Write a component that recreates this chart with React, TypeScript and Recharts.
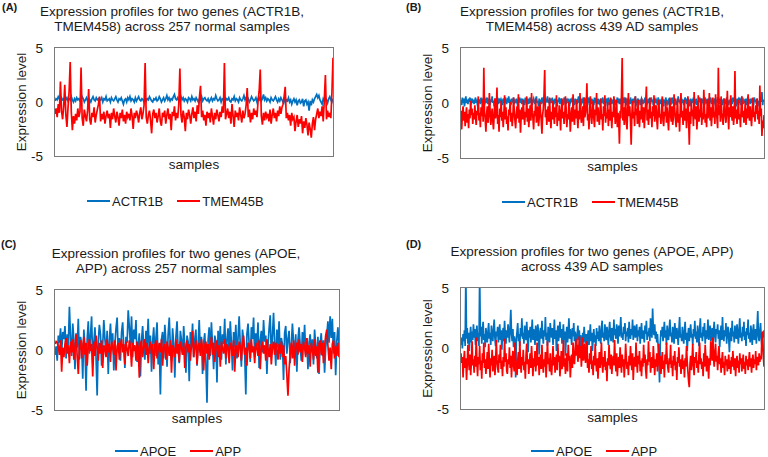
import React from 'react';
import { LineChart, Line, XAxis, YAxis } from 'recharts';

// panel A: ACTR1B / TMEM45B, 257 normal samples
const normalActr1b = [
  0.1, 0.3, 0.2, 0.5, 0.3, 0.1, 0.4, 0.2, 0.3, 0.0, 0.2, 0.4, 0.1, 0.3, 0.2, 0.5, 0.2, 0.0, 0.3, 0.1,
  0.4, 0.2, 0.3, 0.1, 0.2, 0.5, 0.3, 0.0, 0.2, 0.4, 0.1, 0.3, 0.2, 0.0, 0.3, 0.5, 0.2, 0.1, 0.4, 0.2,
  0.3, 0.1, 0.2, 0.4, 0.0, 0.3, 0.2, 0.5, 0.1, 0.2, 0.3, 0.0, 0.4, 0.2, 0.1, 0.3, 0.5, 0.2, 0.0, 0.3,
  0.2, 0.4, 0.1, -0.2, 0.2, 0.3, 0.0, 0.4, 0.2, 0.5, 0.1, 0.3, 0.2, 0.0, 0.4, 0.1, 0.3, 0.5, 0.2, 0.1,
  0.3, 0.2, 0.0, 0.4, 0.1, 0.3, 0.2, 0.5, 0.3, 0.1, 0.0, 0.3, 0.2, 0.4, 0.1, 0.2, 0.5, 0.3, 0.0, 0.2,
  0.4, 0.1, 0.3, 0.6, 0.2, 0.4, 0.1, 0.3, 0.2, 0.5, 0.7, 0.3, 0.2, 0.4, 0.1, 0.3, 0.5, 0.2, 0.4, 0.1,
  0.3, 0.2, 0.0, 0.4, 0.3, 0.1, 0.5, 0.2, 0.3, 0.1, 0.4, 0.2, 0.0, 0.3, 0.2, 0.5, 0.1, 0.3, 0.4, 0.2,
  0.1, 0.3, 0.0, 0.2, 0.4, 0.1, 0.3, 0.2, 0.6, 0.3, 0.1, 0.2, 0.4, 0.0, 0.3, 0.2, 0.5, 0.1, 0.3, 0.2,
  0.4, 0.1, 0.0, 0.3, 0.2, 0.5, 0.1, 0.3, 0.2, 0.0, 0.4, 0.2, 0.1, 0.3, 0.6, 0.2, 0.4, 0.1, 0.3, 0.0,
  0.2, 0.5, 0.3, 0.1, 0.2, 0.4, 0.0, 0.3, 0.2, 0.5, 0.1, 0.3, 0.7, 0.2, 0.4, 0.1, 0.3, 0.2, 0.0, 0.4,
  0.2, 0.1, 0.3, 0.5, 0.2, 0.0, 0.3, 0.1, 0.4, 0.2, 0.0, 0.3, -0.1, 0.2, 0.1, 0.4, 0.0, 0.2, -0.2, 0.1,
  0.3, 0.0, 0.2, -0.3, 0.1, 0.2, -0.1, 0.0, 0.3, -0.4, 0.1, 0.2, -0.2, 0.0, -0.8, 0.1, -0.3, 0.2, 0.0, 0.3,
  0.5, 0.7, 0.4, 0.6, 0.2, 0.0, -0.2, 0.3, 0.1, 0.4, 0.2, -0.1, 0.3, 0.5, 0.2, 0.0, 0.3,
];
const normalTmem45b = [
  -1.1, -0.6, -1.4, -0.2, -1.0, 1.9, -0.8, -1.6, -0.4, 1.6, -1.2, -2.3, -0.5, 1.0, 3.7, -0.9, -2.6, -1.3, -2.0, -1.1,
  -1.7, -0.6, -1.4, -0.9, 3.2, -1.5, -2.2, -0.7, -1.3, -1.8, -0.8, 1.2, -1.6, -2.1, -1.0, -1.4, -0.5, -1.9, -1.2, -0.7,
  -0.2, 0.5, -1.8, -1.1, -1.6, -0.9, -2.0, -1.3, -0.8, -1.5, -1.1, -2.4, -1.0, -1.6, -0.6, -1.3, -1.9, -0.9, -1.4, -2.2,
  -1.0, -1.5, -0.7, -1.8, -1.2, -2.0, -0.9, -1.4, -1.1, -1.7, -0.6, -1.3, -2.5, -1.0, -1.5, -0.8, -1.2, -1.9, -1.0, -0.5,
  -1.6, -1.1, -0.3, 3.6, -1.4, -2.0, -1.2, -0.8, -1.7, -2.9, -1.1, -0.7, -1.5, -1.0, -1.9, -1.3, -0.6, -1.8, -2.2, -1.0,
  -1.4, -0.8, -2.0, -1.2, -0.6, -1.6, -1.1, -2.6, -0.9, -1.3, -0.4, -1.7, -1.0, -1.5, -0.2, 3.1, -1.2, -1.9, -0.8, -1.4,
  -2.7, -1.0, -1.6, -0.7, -1.2, -2.0, -1.1, -0.5, -1.5, -0.9, -1.8, -0.3, -1.1, 0.4, 1.5, -1.4, -0.8, -1.7, -1.2, -2.2,
  -0.9, -1.5, -1.0, -1.9, -0.6, -1.3, -2.1, -1.0, -1.6, -0.7, -1.2, -1.8, -0.9, -1.4, -0.4, -1.0, 3.6, -1.6, -1.1, -0.6,
  -1.5, -0.9, -2.0, -0.2, -1.3, -2.3, -0.8, -1.4, -1.0, -1.7, -0.5, -1.2, -1.9, -0.8, -1.5, -1.1, -0.3, 1.3, -1.4, -0.7,
  -1.9, -1.0, -1.6, -0.6, -1.2, -0.8, -1.4, 0.1, 1.0, 3.0, -1.3, -2.1, -1.0, -1.7, -0.9, -1.4, -1.1, -1.8, -0.7, -2.0,
  -1.2, -0.6, -1.5, -1.0, -1.8, -0.8, -1.3, -0.4, -1.1, -0.5, -0.2, 0.5, 1.4, -1.5, -1.0, -1.7, -1.2, -2.2, -1.0, -1.6,
  -1.4, -2.7, -1.8, -1.2, -2.3, -1.6, -2.0, -1.3, -2.9, -1.8, -2.4, -1.5, -2.1, -3.1, -1.9, -2.5, -3.3, -2.0, -1.4, -2.6,
  -1.6, -1.1, -0.6, -1.5, -0.9, -1.3, -0.4, -1.8, 0.2, 2.5, -1.6, -0.8, -1.4, -1.0, -1.5, 0.8, 4.1,
];

// panel B: ACTR1B / TMEM45B, 439 AD samples
const adActr1b = [
  0.3, -0.2, 0.5, 0.0, 0.4, -0.3, 0.2, 0.6, 0.0, 0.3, -0.1, 0.4, 0.1, 0.5, -0.2, 0.2, 0.4, 0.0, 0.3, -0.1,
  0.2, 0.5, 0.0, 0.3, -0.3, 0.4, 0.1, 0.2, -0.1, 0.5, 0.0, 0.3, 0.2, -0.2, 0.4, 0.1, 0.3, 0.0, 0.5, -0.1,
  0.2, 0.4, -0.2, 0.3, 0.1, 0.6, 0.0, 0.2, -0.3, 0.4, 0.1, 0.3, 0.0, 0.5, -0.1, 0.2, 0.4, 0.0, 0.3, 0.1,
  -0.2, 0.4, 0.2, 0.0, 0.5, 0.1, -0.1, 0.3, 0.2, 0.6, 0.0, 0.3, -0.2, 0.4, 0.1, 0.2, 0.5, -0.1, 0.3, 0.0,
  0.4, 0.1, -0.3, 0.3, 0.2, 0.5, 0.0, 0.2, -0.1, 0.4, 0.1, 0.3, -0.2, 0.5, 0.0, 0.3, 0.1, 0.4, -0.1, 0.2,
  0.5, 0.0, 0.3, -0.2, 0.2, 0.4, 0.1, -0.1, 0.3, 0.6, 0.0, 0.2, -0.3, 0.4, 0.1, 0.3, -0.1, 0.5, 0.2, 0.0,
  0.3, -0.2, 0.4, 0.1, 0.2, 0.6, 0.0, 0.3, -0.1, 0.4, 0.2, 0.0, 0.5, -0.2, 0.3, 0.1, 0.4, 0.0, 0.2, -0.3,
  0.3, 0.1, 0.5, -0.1, 0.2, 0.4, 0.0, 0.3, -0.2, 0.5, 0.1, 0.2, -0.1, 0.4, 0.0, 0.3, 0.2, -0.3, 0.4, 0.1,
  0.2, 0.5, 0.0, 0.3, -0.2, 0.4, 0.1, 0.2, -0.1, 0.3, 0.6, 0.0, 0.2, -0.3, 0.4, 0.1, 0.3, 0.0, 0.5, -0.1,
  0.2, 0.4, 0.1, -0.2, 0.3, 0.5, 0.0, 0.2, -0.1, 0.4, 0.1, 0.3, -0.2, 0.5, 0.0, 0.3, 0.2, -0.1, 0.4, 0.1,
  0.3, -0.2, 0.4, 0.0, 0.2, 0.5, -0.1, 0.3, 0.1, -0.3, 0.4, 0.2, 0.0, 0.5, -0.2, 0.3, 0.1, 0.4, -0.1, 0.3,
  0.0, 0.4, 0.2, -0.2, 0.3, 0.1, 0.5, 0.0, 0.2, -0.1, 0.4, 0.1, 0.3, -0.3, 0.2, 0.5, 0.0, 0.3, 0.1, -0.2,
  0.4, 0.2, 0.0, 0.3, -0.1, 0.5, 0.1, 0.2, -0.2, 0.4, 0.0, 0.3, 0.6, 0.1, -0.1, 0.2, 0.4, 0.0, 0.3, -0.2,
  0.1, 0.4, 0.2, -0.1, 0.3, 0.0, 0.5, 0.2, -0.3, 0.3, 0.1, 0.4, 0.0, 0.2, -0.1, 0.5, 0.1, 0.3, -0.2, 0.2,
  0.4, 0.0, 0.3, 0.1, -0.2, 0.5, 0.2, 0.0, 0.3, -0.1, 0.4, 0.1, 0.2, -0.3, 0.3, 0.0, 0.5, 0.1, -0.1, 0.2,
  0.3, -0.2, 0.4, 0.1, 0.0, 0.5, 0.2, -0.1, 0.3, 0.1, 0.4, -0.2, 0.2, 0.0, 0.6, 0.1, 0.3, -0.1, 0.2, 0.4,
  0.0, 0.3, -0.2, 0.2, 0.5, 0.1, -0.1, 0.4, 0.0, 0.3, 0.2, -0.3, 0.4, 0.1, 0.2, 0.0, 0.5, -0.1, 0.3, 0.1,
  0.4, -0.2, 0.2, 0.0, 0.3, 0.5, 0.1, -0.1, 0.4, 0.2, 0.0, 0.3, -0.2, 0.5, 0.1, 0.2, -0.1, 0.4, 0.0, 0.3,
  0.2, 0.5, -0.1, 0.3, 0.1, 0.0, 0.4, 0.2, -0.3, 0.3, 0.1, 0.5, 0.0, 0.2, -0.1, 0.4, 0.1, 0.3, -0.2, 0.2,
  0.4, 0.0, 0.3, -0.1, 0.5, 0.2, 0.1, -0.2, 0.3, 0.0, 0.4, 0.2, -0.1, 0.5, 0.1, 0.3, 0.0, 0.2, -0.3, 0.4,
  0.1, 0.3, 0.0, 0.5, -0.2, 0.2, 0.4, 0.1, -0.1, 0.3, 0.2, 0.0, 0.4, -0.2, 0.3, 0.6, 0.1, 0.2, -0.1, 0.4,
  0.0, 0.3, 0.2, -0.2, 0.5, 0.1, 0.3, -0.1, 0.4, 0.0, 0.2, -0.3, 0.3, 0.5, 0.1, 1.0, -0.2, 0.3, 0.1,
];
const adTmem45b = [
  -0.7, -2.4, -1.0, -0.3, -1.6, -0.8, -2.1, -1.2, -0.4, -1.8, -1.0, -2.3, -0.6, -1.4, 0.2, -1.1, -0.5, -1.9, -0.9, -1.5,
  -0.2, -1.3, -2.0, -0.7, -1.1, 0.6, -1.6, -0.9, -2.2, -0.4, -1.2, 0.3, -1.7, 3.2, -0.8, -1.5, -2.6, -1.0, -0.3, -1.8,
  -1.2, 0.9, -0.6, -2.0, -1.3, -0.5, -1.7, -2.4, -0.9, 0.4, -1.4, -0.7, 1.4, -1.9, -1.1, -2.6, -0.5, -1.3, 0.2, -1.6,
  -0.8, -2.2, -1.0, 0.7, -1.5, -0.4, -1.9, -1.2, -2.5, -0.6, -1.1, 0.1, -1.7, -0.9, -2.1, -1.3, 0.5, -0.7, -1.6, -2.3,
  -1.0, -0.3, -1.4, 0.8, -1.8, -0.6, -2.7, -1.2, -0.4, -1.5, 0.3, -1.0, -2.0, -0.8, -1.3, 0.6, -1.7, -0.5, -2.2, -1.1,
  -0.2, -1.6, 0.9, -0.9, -1.4, -2.4, -0.7, -1.2, 0.4, -1.8, -1.0, -0.3, -2.1, -1.4, 0.1, -0.8, -1.6, -2.8, -1.1, -0.5,
  0.8, 3.0, -1.3, -0.6, -2.0, -1.0, -0.3, -1.7, 0.5, -1.2, -2.3, -0.8, -1.5, 0.2, -1.0, -1.9, -0.4, -1.3, 0.7, -2.1,
  -0.9, -1.6, -0.2, -1.1, -2.5, -0.7, 0.4, -1.4, -0.8, -1.9, -1.2, 0.6, -0.5, -2.2, -1.0, -1.5, 0.1, -0.9, -2.6, -1.3,
  -0.4, -1.7, 0.8, -1.0, -2.0, -0.6, -1.4, 0.3, -1.1, -2.3, -0.7, -1.5, 0.9, -0.8, -1.8, -1.1, -0.3, -2.1, 0.5, -1.3,
  -0.9, -0.2, 1.8, -1.6, -1.0, -2.4, -0.5, 0.6, -1.2, -1.9, -0.8, 0.2, -1.4, -2.2, -0.6, -1.1, 0.9, -1.7, -0.4, -1.3,
  -2.0, -0.7, 0.4, -1.5, -1.0, -2.5, -0.3, -1.2, 0.7, -1.8, -0.9, -1.4, 0.1, -2.1, -0.6, -1.6, 0.5, -1.0, -2.3, -0.8,
  -1.3, 0.6, -0.5, -1.9, -1.1, 0.3, -2.2, -0.9, -1.5, -3.7, -0.7, -1.4, 0.8, 4.1, -1.6, -0.4, -2.0, -1.0, 0.5, -1.8,
  -2.4, -0.6, 0.9, -1.2, -0.3, -1.7, -3.8, -1.0, 0.2, -1.4, -0.8, -2.1, 0.6, -1.1, -0.5, -1.9, 0.3, -1.3, -2.2, -0.7,
  -1.5, 0.4, -0.9, -1.8, -0.4, -2.3, -1.1, 0.1, 1.5, -1.6, -0.6, -2.0, -1.0, 0.5, -1.4, -0.8, -2.2, -0.3, -1.2, 0.7,
  -1.7, -0.9, -0.2, -1.5, -2.4, -0.7, 0.3, -1.3, -1.0, -1.9, -0.5, 0.6, -1.6, -2.1, -0.8, -1.2, 0.2, -1.8, -0.4, -1.4,
  -2.5, -0.9, 0.5, -1.1, -1.7, -0.3, -2.0, -1.3, 0.8, -0.6, -1.5, -2.2, -0.9, 0.4, -1.8, -1.0, -2.6, -0.4, 0.9, -1.3,
  -0.7, -2.0, -1.1, 0.3, -1.6, -0.5, -2.3, -1.0, 0.6, -1.4, -3.8, -0.8, -1.9, 0.2, -1.2, -0.6, -2.1, 1.0, -0.9, -1.5,
  -0.3, -2.4, -1.1, 0.7, -1.7, -0.6, -1.3, 0.4, -2.0, -0.9, -1.5, 1.2, -0.5, -1.8, -1.0, -2.2, 0.3, -1.4, -0.7, 0.9,
  -1.6, -0.4, -2.1, -1.0, 0.5, -1.3, -0.8, -1.9, 0.8, -0.6, -1.4, -2.3, 3.2, -1.1, -0.2, -1.7, 0.6, -0.9, -1.5, -2.0,
  -0.5, 0.4, -1.2, -1.8, -0.7, 1.1, -1.0, -2.4, -0.4, -1.3, 0.7, -0.9, -1.6, -0.3, -2.0, -1.1, 2.9, -1.4, -0.6, -1.9,
  -0.8, 0.3, -1.5, -1.0, -2.2, -0.4, 0.6, -1.3, -0.7, -1.8, -1.1, 0.2, -2.0, -0.5, -1.4, 0.8, -0.9, -1.6, -0.3, -1.2,
  -2.1, -0.6, 0.5, -1.3, -0.8, -1.7, -0.2, -1.0, 0.4, -1.5, -0.7, -1.9, 1.6, -1.2, -0.5, -3.0, -1.6, -2.3, -1.1,
];

// panel C: APOE / APP, 257 normal samples
const normalApoe = [
  -0.4, 0.3, -0.9, 1.2, 0.6, 1.8, -0.2, 1.5, 0.9, 2.0, -0.7, 1.3, 0.4, 3.6, 1.0, -0.5, 2.2, 0.8, -1.6, 1.4,
  0.2, 2.6, -0.8, 1.1, 0.5, -2.4, 1.7, 0.3, -3.4, 0.9, 2.4, -0.3, 1.2, 2.8, -1.1, 0.6, 1.9, -0.6, -3.8, 0.7,
  2.1, 1.3, -1.3, 0.4, 2.5, 0.9, -0.4, 1.6, -2.0, 0.8, 2.2, 0.1, 1.4, -1.7, 0.5, 1.8, 2.7, -0.2, 1.0, -0.9,
  1.5, 2.3, 0.2, -1.5, 1.1, 0.6, 3.3, 1.9, 0.4, 2.8, -0.6, 1.7, 0.9, 2.5, -1.0, 0.3, 1.4, -2.2, 0.8, 2.0,
  0.1, -0.8, 1.6, 0.5, 2.6, -0.3, 1.2, -1.8, 0.7, 1.9, -0.5, 1.0, 2.3, -1.2, 0.4, -3.7, 0.9, 1.5, -0.7, 2.1,
  0.6, -1.4, 1.3, 2.7, 0.2, -0.9, 1.8, 0.5, -2.3, 1.1, 2.4, 0.0, -1.1, 1.6, 0.8, -0.4, 2.0, 0.3, -1.9, 1.2,
  0.7, -2.6, 1.5, 0.2, 2.2, -0.6, 0.9, 1.7, -1.3, 0.4, 2.5, -0.2, 1.1, -2.0, 0.6, 1.4, -1.0, -4.4, 0.8, 1.9,
  -0.5, 2.3, 0.3, -1.6, 1.2, 0.7, -2.7, 1.6, 0.1, 2.0, -0.8, 1.3, 0.5, 2.6, -1.2, 0.9, 1.8, -0.3, 2.4, 0.6,
  -1.7, 1.5, 0.2, 2.1, -0.7, 1.0, 2.8, 0.4, -1.4, 1.7, 0.8, -0.4, -3.7, 1.3, 2.2, 0.5, -1.0, 1.9, 0.9, 2.7,
  -0.6, 1.4, 0.3, 2.3, -1.5, 0.8, 1.6, -0.2, 2.5, 0.7, 1.2, -2.0, 0.4, 1.8, 2.9, -0.5, 1.1, 3.1, 0.6, -1.3,
  1.7, 0.2, 2.4, -0.8, 1.0, 0.5, -2.5, 1.4, 2.0, -0.3, 0.9, 1.6, -1.1, 0.3, 2.2, 0.7, -0.6, 1.3, -1.8, 0.8,
  1.9, 0.4, -0.9, 1.5, 0.1, 2.1, -0.4, 1.0, -1.6, 0.6, 1.3, -0.2, 0.9, -1.2, 1.7, 0.3, -0.7, 1.1, -2.0, 0.5,
  1.4, -0.5, 0.8, -1.9, 0.2, 1.2, 2.4, 0.6, 2.8, 1.0, 2.6, -0.3, 1.5, -2.1, 0.7, 1.9, 0.4,
];
const normalApp = [
  0.5, 0.7, 0.6, 0.3, -0.4, 0.8, -1.8, 0.2, -0.6, 0.5, 1.0, -0.3, 0.4, -1.1, 0.7, -0.2, 0.9, -0.8, 0.3, 1.3,
  -0.5, -2.0, 0.4, 0.8, -0.7, 0.2, 1.1, -0.4, 0.6, -1.3, 0.3, 0.9, -0.1, 0.5, -2.2, 0.7, -0.5, 1.2, 0.2, -0.9,
  0.6, -0.3, 0.8, -1.5, 0.4, 0.1, -0.6, 0.9, -0.2, 0.5, -1.0, 0.7, 0.2, -0.4, 0.8, -1.7, 0.3, 0.6, -0.8, 0.4,
  0.9, -0.2, 0.5, -1.2, 0.7, 0.1, -0.5, 0.8, 0.3, -1.4, 0.6, -0.1, 0.4, -0.9, 0.7, 0.2, -2.3, 0.5, 0.8, -0.6,
  0.3, 0.9, -0.4, 0.6, -1.1, 0.2, 0.7, -0.3, 0.5, -1.6, 0.4, 0.8, -0.7, 0.1, 0.6, -0.2, 0.9, -1.3, 0.3, 0.5,
  -0.8, 0.7, 0.2, -0.5, 0.8, -1.9, 0.4, 0.1, -0.6, 0.9, -0.3, 0.5, -1.0, 0.7, 0.2, -0.4, 0.6, -1.5, 0.3, 0.8,
  -0.2, 0.5, -0.9, 0.4, 1.6, -0.6, 0.3, 0.8, -1.2, 0.2, 0.6, -0.5, 0.9, 0.1, -1.7, 0.4, 0.7, -0.3, 0.5, -0.8,
  0.3, 1.1, -0.4, 0.6, -1.0, 0.2, 0.8, -0.6, 0.4, -1.4, 0.7, 0.1, -0.3, 0.9, -0.7, 0.5, 0.2, -1.1, 0.6, 0.3,
  -0.5, 0.8, -1.8, 0.4, 0.1, -0.6, 0.7, 0.3, -0.9, 0.5, 1.2, -0.4, 0.2, -1.3, 0.6, 0.4, -0.7, 0.9, -0.2, 0.3,
  -1.1, 0.6, 0.2, -0.5, 0.8, -1.6, 0.3, 0.7, -0.3, 0.4, -0.9, 0.9, 0.1, -0.6, 0.5, -1.2, 0.2, 0.7, -0.4, 0.6,
  0.1, -0.8, 0.5, -0.3, 0.7, -0.6, 0.4, -1.2, -0.5, -2.1, -3.8, -1.6, -0.4, 0.6, -0.7, 0.8, -1.3, 0.3, 0.6, -0.4,
  0.9, -0.2, 0.5, -1.0, 0.7, 0.2, -0.6, 1.0, -0.3, 0.4, -1.4, 0.6, 0.1, -0.8, 0.9, -0.5, 0.3, -1.9, 0.5, 0.8,
  -0.4, 0.6, -1.1, 0.3, 1.2, 1.7, 0.4, -0.9, 0.2, -1.6, 0.5, 0.8, -0.7, 0.3, -0.5, 0.6, -0.6,
];

// panel D: APOE / APP, 439 AD samples (two APOE values run past the top of the axis)
const adApoe = [
  0.3, 0.9, 0.0, 1.2, 0.6, 1.5, 0.2, 6.0, 0.8, 1.7, 0.4, 1.3, -0.2, 1.0, 1.8, 0.5, 1.4, 0.7, 2.0, 0.9,
  1.6, 0.3, 1.1, 1.9, 0.6, 1.3, 0.2, 6.0, 1.0, 1.8, 0.4, 1.5, 2.2, 0.7, 1.2, 0.1, 1.7, 1.0, 0.5, 1.4,
  2.1, 0.8, 1.3, 0.3, 1.9, 1.1, 0.6, 1.6, 2.4, 0.9, 0.2, 1.4, 1.0, 1.8, 0.5, 1.2, 2.0, 0.7, 1.5, -0.1,
  1.1, 1.7, 0.6, 2.3, 1.0, 0.4, 1.5, 0.9, 2.0, 1.3, 0.5, 1.8, 3.2, 1.2, 0.6, 1.6, 0.1, 1.0, 0.5, -2.4,
  0.8, 1.4, 2.1, 0.6, 1.2, 0.2, 1.7, 1.0, 2.5, 0.8, 1.3, 0.4, 1.9, 1.1, 0.7, 2.2, 1.0, -0.3, 1.5, 0.9,
  1.8, 0.5, 1.3, 2.4, 0.7, 1.6, 1.1, 0.3, 1.9, 1.2, 0.6, 2.0, 1.4, -0.5, 1.0, 1.7, 0.8, 2.3, 1.2, 0.4,
  1.5, 1.0, 2.6, 0.7, 1.3, 0.2, 1.8, 1.1, 0.5, 2.1, 1.4, 0.9, 1.7, 0.3, 1.2, 2.4, 0.8, 1.5, -0.2, 1.0,
  1.9, 0.6, 1.3, 2.2, 0.9, 1.6, 0.4, 1.1, 2.0, 0.7, 1.4, -0.6, 1.0, 1.8, 0.5, 1.3, 2.5, 0.8, 1.6, 1.1,
  0.3, 1.7, 1.0, 2.1, 0.6, 1.4, 0.9, -0.4, 1.2, 1.9, 0.7, 1.5, 0.2, 1.1, 0.6, 0.0, 1.3, 0.5, 1.8, 0.9,
  0.4, 1.2, -0.7, 0.8, 1.5, 0.3, 1.0, 2.0, 0.6, 1.3, -0.2, 0.9, 1.6, 0.5, 1.1, 0.2, 1.7, 0.8, 1.4, 0.6,
  1.9, 1.0, 0.4, 1.6, 2.3, 0.9, 1.3, 0.6, 2.0, 1.2, 0.7, 1.8, 1.1, 0.3, 1.5, 2.2, 1.0, 0.6, 1.7, 1.2,
  0.5, 2.4, 1.1, 1.6, 0.8, 2.0, 1.3, 0.4, 1.9, 1.0, 1.5, 2.6, 0.9, 1.3, 0.7, 1.8, 1.2, 2.1, 0.6, 1.4,
  1.0, 1.7, 0.5, 2.2, 1.3, 0.8, 1.6, 1.1, 2.4, 0.7, 1.4, 1.9, 0.9, 1.2, 2.0, 0.6, 1.5, 1.0, 1.8, 0.4,
  1.3, 2.1, 0.8, 1.5, 1.1, 0.5, 1.9, 1.2, 2.3, 0.7, 1.4, 1.0, 1.7, 0.6, 2.5, 1.3, 0.9, 3.3, 1.6, 1.1,
  2.0, 0.8, 1.4, 0.5, 1.2, 0.1, -0.8, -2.8, 0.4, 1.5, 1.0, 1.8, 0.6, 1.3, 2.2, 0.9, 1.5, 0.3, 1.9, 1.1,
  0.7, 1.6, 2.4, 1.0, 1.3, 0.5, 1.8, 1.2, 0.4, 2.1, 1.4, 0.8, 1.7, 1.1, 0.3, 1.5, 2.6, 0.9, 1.2, 0.6,
  1.8, 1.0, 0.4, 1.5, 2.2, 0.7, 1.3, -0.2, 1.0, 1.7, 0.6, 1.4, 2.0, 0.9, 1.2, 0.3, 1.6, 1.0, 2.3, 0.8,
  1.4, 0.5, 1.9, 1.1, 0.2, 1.6, 2.5, 0.9, 1.3, 0.6, 1.8, 1.0, 2.1, 0.4, 1.5, 0.8, 1.2, 2.4, 0.7, 1.3,
  1.9, 0.6, 1.1, 1.7, 0.3, 1.4, 2.2, 1.0, 0.5, 1.6, 1.2, 2.0, 0.8, 1.5, 0.1, 1.3, 1.9, 0.7, 2.6, 1.1,
  0.6, 1.5, 1.0, 2.1, 0.4, 1.3, 1.8, 0.9, -0.3, 1.2, 1.7, 0.6, 2.3, 1.0, 1.4, 0.5, 1.9, 1.2, 0.8, 2.0,
  1.1, 0.4, 1.6, 2.5, 0.9, 1.3, 0.6, 1.8, 1.0, 2.2, 0.7, 1.4, 0.2, 1.7, 1.1, 2.4, 0.8, 1.3, 0.5, 1.9,
  1.2, 0.3, 1.5, 2.0, 0.7, 1.1, 1.6, 0.4, 1.8, 3.1, 1.0, 0.6, 1.4, 2.1, 0.8, 0.2, 1.3, 0.9, 1.5,
];
const adApp = [
  -0.4, -1.2, -0.7, -2.4, -1.0, -0.2, -1.6, -0.8, -2.6, -1.3, 0.3, -1.0, -1.8, -0.5, -2.2, -1.1, 0.6, -1.4, -0.9, -2.0,
  -0.6, -1.5, 0.9, -1.1, -2.3, -0.7, -1.3, 0.2, -1.8, -1.0, -2.5, -0.4, -1.2, 0.5, -1.6, -0.9, -2.1, -1.3, -0.3, -1.7,
  0.4, -1.0, -2.4, -0.8, -1.4, -0.1, -1.9, -1.1, -0.6, -2.2, -1.3, 0.7, -0.9, -1.6, -2.0, -0.5, -1.2, 0.3, -1.7, -1.0,
  -2.3, -0.7, -1.5, 0.8, -1.1, -0.4, -1.8, -2.1, -0.9, -1.3, 0.1, -1.6, -0.6, -2.4, -1.0, -0.2, -1.4, -1.9, 0.5, -0.8,
  -1.5, -2.2, -1.0, -0.3, -1.7, 0.6, -1.2, -2.0, -0.7, -1.4, -0.1, -1.8, -1.1, -2.5, -0.6, 0.4, -1.3, -0.9, -2.1, -1.2,
  -0.4, -1.6, 0.2, -1.0, -2.3, -0.8, -1.5, -0.2, -1.9, -1.1, 0.5, -1.4, -0.7, -2.2, -1.0, -0.5, -1.7, 0.3, -1.2, -2.0,
  -0.9, -1.5, -0.3, -2.4, -1.1, 0.6, -1.3, -0.8, -1.9, -0.4, -1.6, -2.2, -1.0, 0.2, -1.4, -0.7, -2.0, -1.2, -0.5, -1.8,
  0.4, -1.1, -0.6, -2.3, -1.4, -0.2, -1.7, -1.0, 0.7, -1.5, -0.8, -2.1, -1.2, -0.4, -1.9, 0.3, -1.0, -0.6, -2.4, -1.3,
  -0.5, -1.6, 0.5, -0.9, -1.3, -0.2, 0.8, -0.6, 0.3, -1.1, -0.4, 1.0, -0.8, 0.2, -1.5, -0.3, 0.9, -1.0, -0.5, 0.4,
  -1.2, -0.7, 0.6, -1.6, -0.9, -2.0, -0.4, -1.3, 0.2, -1.7, -1.0, -2.2, -0.6, -1.4, 0.4, -1.1, -1.9, -0.8, -2.5, -1.2,
  -0.3, -1.6, -0.9, 0.5, -1.3, -2.0, -0.7, -1.5, -0.2, -1.8, -1.1, -2.7, -0.8, -1.4, 0.3, -1.0, -1.7, -0.5, -2.1, -1.2,
  -0.6, -1.4, 0.7, -1.0, -1.9, -0.4, -2.3, -1.2, -0.7, -1.6, 0.1, -1.1, -2.0, -0.5, -1.5, -0.9, -2.4, -1.3, 0.4, -0.8,
  -1.7, -1.1, -2.2, -0.6, -1.4, 0.2, -1.0, -1.8, -0.4, -2.6, -1.2, -0.7, -1.5, 0.5, -1.1, -2.0, -0.6, -1.3, -0.2, -1.9,
  -1.0, -2.3, -0.8, -1.5, 0.3, -1.2, -0.5, -1.8, -2.5, -0.9, -1.4, 0.6, -1.1, -0.3, -2.0, -1.3, -0.7, -1.6, 0.2, -1.0,
  -2.2, -0.9, -1.5, -0.4, -1.9, -1.1, 0.4, -1.4, -0.6, -2.1, -1.2, -0.3, -1.7, -1.0, -2.4, -0.5, -1.3, 0.5, -0.9, -1.6,
  -2.0, -0.8, -1.3, 0.3, -1.6, -1.0, -2.3, -0.6, -1.4, -0.2, -1.8, -1.1, -2.6, -0.7, -1.2, 0.1, -1.5, -0.9, -2.1, -1.3,
  -0.5, -1.7, -1.0, -2.4, -0.8, -1.5, 0.2, -1.1, -1.9, -2.7, -3.2, -1.3, -0.6, -1.8, -1.0, 0.4, -1.4, -2.2, -0.7, -1.2,
  -0.3, -1.6, -1.0, -2.0, -0.5, 0.5, -1.3, -0.8, -1.7, -1.1, -2.3, -0.4, -1.5, 0.3, -0.9, -1.9, -0.6, -1.2, -2.5, -0.8,
  -1.4, 0.6, -0.2, -1.0, 0.9, -0.7, -1.5, -0.3, 0.4, -1.1, -0.6, -1.8, -0.4, 0.2, -1.3, -0.8, -2.0, -1.0, -0.3, -1.6,
  -1.1, -2.2, -0.6, -1.4, -0.9, -1.9, -1.3, -0.5, -1.7, -1.0, -2.1, -0.7, -1.5, -0.2, -1.2, -1.8, -0.8, -2.3, -1.1, -0.6,
  -1.6, -1.0, -2.0, -0.4, -1.3, -0.8, -1.9, -1.2, -0.5, -1.7, -1.1, -2.1, -0.6, -1.4, -0.9, -1.8, -1.0, -0.3, -1.5, -0.8,
  -2.0, -1.1, -0.5, -1.6, -0.9, -1.3, -0.2, -1.8, -0.7, -1.0, -1.4, -0.4, -1.1, -0.6, -0.9, 1.2, 1.4, -0.5, -1.5,
];

const Y_TICKS = [-5, 0, 5];
const BLUE = '#0070c0';
const RED = '#ff0000';
const TEXT = '#1a1a1a';
const FRAME = '#7a7a7a';
const FONT = '"Liberation Sans", Arial, sans-serif';
const Y_AXIS_W = 55;
const X_AXIS_H = 22;

const toRows = (a: number[], b: number[]) => a.map((v, i) => ({ i, a: v, b: b[i] }));

// one 1px edge of the plot frame
function Edge({ l, t, w, h }: { l: number; t: number; w: number; h: number }) {
  return <div style={{ position: 'absolute', left: l, top: t, width: w, height: h, background: FRAME, zIndex: 5 }} />;
}

function Panel({ x, y, w, h, top, right, rows }: any) {
  const last = rows.length - 1;
  // plot box, derived from the chart margins and axis sizes
  const pl = Y_AXIS_W;
  const pr = w - right;
  const pt = top;
  const pb = h - X_AXIS_H;
  return (
    <div style={{ position: 'absolute', left: x, top: y, width: w, height: h }}>
      <LineChart width={w} height={h} data={rows} margin={{ top, right, left: 0, bottom: 0 }}>
        <XAxis
          dataKey="i"
          type="number"
          domain={[0, last]}
          tick={false}
          axisLine={false}
          tickLine={false}
          height={X_AXIS_H}
          label={{ value: 'samples', position: 'insideBottom', offset: 9, fill: TEXT, fontSize: 13.5 }}
        />
        <YAxis
          domain={[-5, 5]}
          ticks={Y_TICKS}
          allowDataOverflow
          width={Y_AXIS_W}
          axisLine={false}
          tickLine={false}
          tickSize={0}
          tickMargin={12}
          tick={{ fill: TEXT, fontSize: 13.5 }}
          label={{
            value: 'Expression level',
            angle: -90,
            position: 'insideLeft',
            offset: 21,
            fill: TEXT,
            fontSize: 13.5,
            style: { textAnchor: 'middle' },
          }}
        />
        <Line dataKey="a" stroke={BLUE} strokeWidth={1.7} dot={false} isAnimationActive={false} />
        <Line dataKey="b" stroke={RED} strokeWidth={1.7} dot={false} isAnimationActive={false} />
      </LineChart>
      <Edge l={pl - 1} t={pt - 1} w={pr - pl + 2} h={1} />
      <Edge l={pl - 1} t={pb} w={pr - pl + 2} h={1} />
      <Edge l={pl - 1} t={pt - 1} w={1} h={pb - pt + 2} />
      <Edge l={pr} t={pt - 1} w={1} h={pb - pt + 2} />
    </div>
  );
}

function Title({ cx, y, lines }: { cx: number; y: number; lines: string[] }) {
  return (
    <div
      style={{
        position: 'absolute',
        left: cx - 200,
        top: y,
        width: 400,
        textAlign: 'center',
        fontSize: 13.5,
        lineHeight: '15px',
        color: TEXT,
        whiteSpace: 'nowrap',
      }}
    >
      {lines.map((l) => (
        <div key={l}>{l}</div>
      ))}
    </div>
  );
}

function Tag({ x, y, text }: { x: number; y: number; text: string }) {
  return (
    <div style={{ position: 'absolute', left: x, top: y, fontSize: 11, fontWeight: 'bold', color: TEXT }}>
      {text}
    </div>
  );
}

function LegendRow({ x, y, names }: { x: number; y: number; names: string[] }) {
  const colors = [BLUE, RED];
  return (
    <div style={{ position: 'absolute', left: x, top: y - 8, height: 16, display: 'flex', alignItems: 'center' }}>
      {names.map((n, k) => (
        <div key={n} style={{ display: 'flex', alignItems: 'center', marginLeft: k ? 14 : 0 }}>
          <span style={{ display: 'inline-block', width: 23, height: 2, background: colors[k] }} />
          <span style={{ marginLeft: 2, fontSize: 13, color: TEXT }}>{n}</span>
        </div>
      ))}
    </div>
  );
}

export default function App() {
  return (
    <div
      style={{
        position: 'absolute',
        left: 0,
        top: 0,
        width: 768,
        height: 457,
        background: '#fff',
        fontFamily: FONT,
        overflow: 'hidden',
      }}
    >
      <Tag x={2} y={1} text="(A)" />
      <Title cx={172} y={4} lines={['Expression profiles for two genes (ACTR1B,', 'TMEM458) across 257 normal samples']} />
      <Panel x={0} y={0} w={384} h={178} top={48} right={51} rows={toRows(normalActr1b, normalTmem45b)} />
      <LegendRow x={87} y={201} names={['ACTR1B', 'TMEM45B']} />

      <Tag x={406} y={1} text="(B)" />
      <Title cx={592} y={4} lines={['Expression profiles for two genes (ACTR1B,', 'TMEM458) across 439 AD samples']} />
      <Panel x={406} y={0} w={361} h={180} top={48} right={3} rows={toRows(adActr1b, adTmem45b)} />
      <LegendRow x={502} y={202} names={['ACTR1B', 'TMEM45B']} />

      <Tag x={1} y={238} text="(C)" />
      <Title cx={176} y={246} lines={['Expression profiles for two genes (APOE,', 'APP) across 257 normal samples']} />
      <Panel x={0} y={228} w={384} h={204} top={62} right={45} rows={toRows(normalApoe, normalApp)} />
      <LegendRow x={115} y={451} names={['APOE', 'APP']} />

      <Tag x={406} y={238} text="(D)" />
      <Title cx={592} y={244} lines={['Expression profiles for two genes (APOE, APP)', 'across 439 AD samples']} />
      <Panel x={406} y={228} w={361} h={203} top={60} right={3} rows={toRows(adApoe, adApp)} />
      <LegendRow x={531} y={451} names={['APOE', 'APP']} />
    </div>
  );
}
